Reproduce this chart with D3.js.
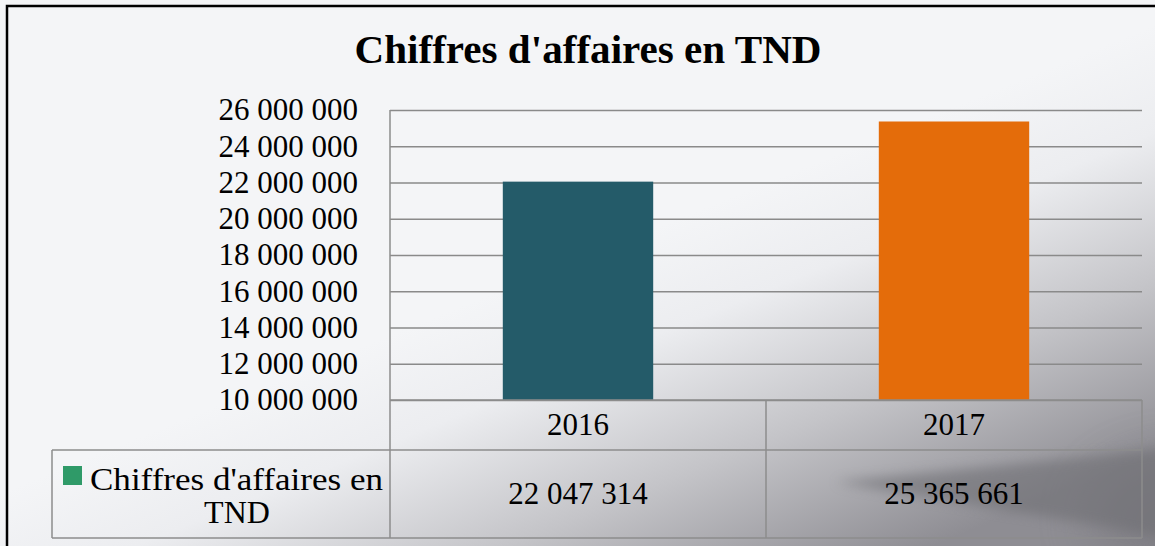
<!DOCTYPE html>
<html>
<head>
<meta charset="utf-8">
<script src="https://cdn.jsdelivr.net/npm/d3@7"></script>
<style>
  html, body { margin: 0; padding: 0; overflow: hidden; }
  text { font-family: "Liberation Serif", "Times New Roman", serif; fill: #000; }
</style>
</head>
<body>
<script>
var width = 1155;
var height = 546;

var categories = ["2016", "2017"];
var values = [22047314, 25365661];
var barColors = ["#245B69", "#E46C0A"];
var seriesName = "Chiffres d'affaires en TND";
var yTicks = [10000000, 12000000, 14000000, 16000000, 18000000, 20000000, 22000000, 24000000, 26000000];

var plotLeft = 390, plotRight = 1142, plotTop = 110, plotBottom = 400;
var row1Bottom = 450, row2Bottom = 538, legendLeft = 52;

var fmt = d3.formatLocale({ decimal: ",", thousands: " ", grouping: [3], currency: ["", ""] }).format(",d");

var svg = d3.select("body")
    .append("svg")
    .attr("width", width)
    .attr("height", height);

// background: light sky, grey towards bottom right, dark cloud streak
var defs = svg.append("defs");
var lg = defs.append("linearGradient").attr("id", "bg")
    .attr("gradientUnits", "userSpaceOnUse")
    .attr("x1", 600).attr("y1", 250).attr("x2", 750).attr("y2", 620);
lg.append("stop").attr("offset", "0%").attr("stop-color", "#F4F5F7");
lg.append("stop").attr("offset", "25%").attr("stop-color", "#ECEDF0");
lg.append("stop").attr("offset", "60%").attr("stop-color", "#C4C4C8");
lg.append("stop").attr("offset", "100%").attr("stop-color", "#8E8D93");
defs.append("filter").attr("id", "blur")
    .attr("x", "-20%").attr("y", "-50%").attr("width", "140%").attr("height", "200%")
    .append("feGaussianBlur").attr("stdDeviation", 6);
defs.append("filter").attr("id", "blur2")
    .attr("x", "-50%").attr("y", "-50%").attr("width", "200%").attr("height", "200%")
    .append("feGaussianBlur").attr("stdDeviation", 25);

svg.append("rect").attr("width", width).attr("height", height).attr("fill", "url(#bg)");
svg.append("ellipse")
    .attr("cx", 1180).attr("cy", 520).attr("rx", 90).attr("ry", 60)
    .attr("fill", "#78777D").attr("opacity", 0.6).attr("filter", "url(#blur2)");
svg.append("path")
    .attr("d", "M835,482 L1000,466 L1170,448 L1170,540 L1110,527 L960,503 Z")
    .attr("fill", "#707075").attr("opacity", 0.6).attr("filter", "url(#blur)");

// chart border
svg.append("rect")
    .attr("x", 7).attr("y", 6)
    .attr("width", width).attr("height", height)
    .attr("fill", "none").attr("stroke", "#000").attr("stroke-width", 2.5);

// title
svg.append("text")
    .attr("x", 588).attr("y", 63)
    .attr("text-anchor", "middle")
    .attr("textLength", 467).attr("lengthAdjust", "spacingAndGlyphs")
    .style("font-size", "40px").style("font-weight", "bold")
    .text(seriesName);

var y = d3.scaleLinear().domain([10000000, 26000000]).range([plotBottom, plotTop]);
var x = d3.scaleBand().domain(categories).range([plotLeft, plotRight])
    .paddingInner(0.6).paddingOuter(0.3);
var xCol = d3.scaleBand().domain(categories).range([plotLeft, plotRight]);

// gridlines
var grid = svg.append("g")
    .attr("transform", "translate(" + plotLeft + ",0)")
    .call(d3.axisLeft(y).tickValues(yTicks).tickSize(-(plotRight - plotLeft)).tickFormat(""));
grid.select(".domain").remove();
grid.selectAll("line").attr("stroke", "#8A8A8A").attr("stroke-width", 1.5);

// y axis labels
var yAxis = svg.append("g")
    .attr("transform", "translate(" + (plotLeft - 32) + ",0)")
    .call(d3.axisLeft(y).tickValues(yTicks).tickSize(0).tickPadding(0).tickFormat(fmt));
yAxis.select(".domain").remove();
yAxis.selectAll("text")
    .style("font-size", "31px")
    .style("font-family", "'Liberation Serif', serif")
    .attr("fill", "#000");

// bars
svg.selectAll("rect.bar")
    .data(values)
    .enter()
    .append("rect")
    .attr("class", "bar")
    .attr("x", function (d, i) { return x(categories[i]); })
    .attr("y", function (d) { return y(d); })
    .attr("width", x.bandwidth())
    .attr("height", function (d) { return plotBottom - y(d); })
    .attr("fill", function (d, i) { return barColors[i]; });

// data table lines
var lineColor = "#8C8C8C";
var tbl = svg.append("g").attr("stroke", lineColor).attr("stroke-width", 1.5);
tbl.append("line").attr("x1", plotLeft).attr("x2", plotLeft).attr("y1", plotTop).attr("y2", row2Bottom);
tbl.append("line").attr("x1", plotLeft).attr("x2", plotRight).attr("y1", plotBottom).attr("y2", plotBottom);
tbl.append("line").attr("x1", legendLeft).attr("x2", plotRight).attr("y1", row1Bottom).attr("y2", row1Bottom);
tbl.append("line").attr("x1", legendLeft).attr("x2", plotRight).attr("y1", row2Bottom).attr("y2", row2Bottom);
tbl.append("line").attr("x1", legendLeft).attr("x2", legendLeft).attr("y1", row1Bottom).attr("y2", row2Bottom);
tbl.selectAll("line.col")
    .data(categories)
    .enter()
    .append("line")
    .attr("class", "col")
    .attr("x1", function (d) { return xCol(d) + xCol.bandwidth(); })
    .attr("x2", function (d) { return xCol(d) + xCol.bandwidth(); })
    .attr("y1", plotBottom).attr("y2", row2Bottom);

// category labels
svg.selectAll("text.cat")
    .data(categories)
    .enter()
    .append("text")
    .attr("class", "cat")
    .attr("x", function (d) { return xCol(d) + xCol.bandwidth() / 2; })
    .attr("y", 435)
    .attr("text-anchor", "middle")
    .style("font-size", "31px")
    .text(function (d) { return d; });

// values
svg.selectAll("text.val")
    .data(values)
    .enter()
    .append("text")
    .attr("class", "val")
    .attr("x", function (d, i) { return xCol(categories[i]) + xCol.bandwidth() / 2; })
    .attr("y", 504)
    .attr("text-anchor", "middle")
    .style("font-size", "31px")
    .text(function (d) { return fmt(d); });

// legend cell
svg.append("rect")
    .attr("x", 63).attr("y", 466).attr("width", 19).attr("height", 19)
    .attr("fill", "#2F9A68");
svg.append("text")
    .attr("x", 90).attr("y", 490)
    .attr("textLength", 293).attr("lengthAdjust", "spacingAndGlyphs")
    .style("font-size", "32px")
    .text("Chiffres d'affaires en");
svg.append("text")
    .attr("x", 237).attr("y", 523)
    .attr("text-anchor", "middle")
    .style("font-size", "32px")
    .text("TND");
</script>
</body>
</html>
